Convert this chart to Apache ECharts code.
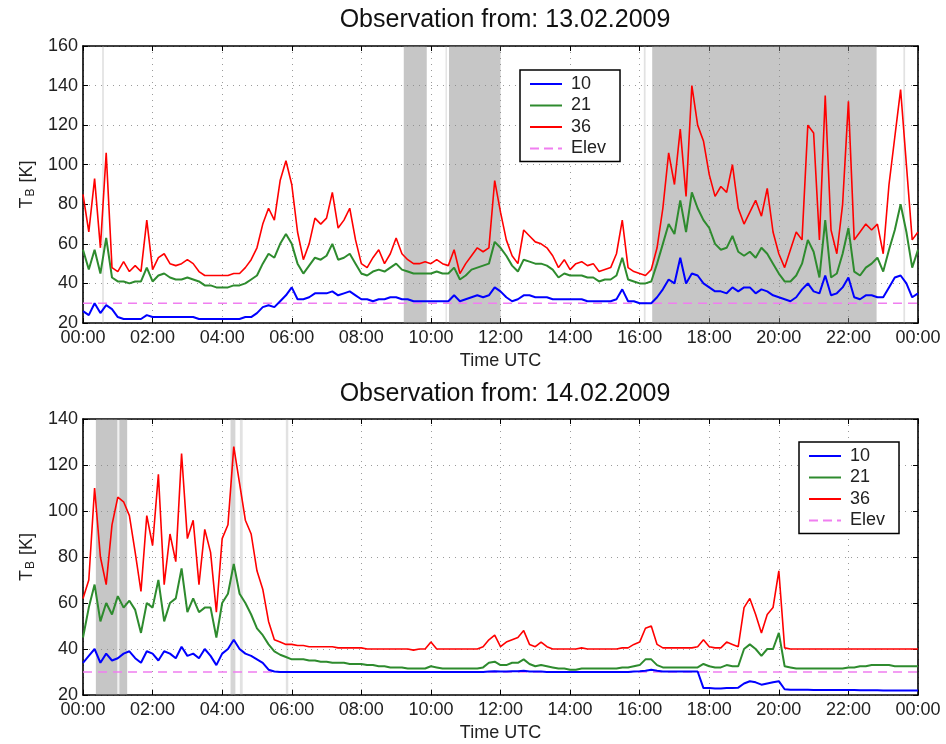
<!DOCTYPE html>
<html><head><meta charset="utf-8">
<script src="https://cdn.jsdelivr.net/npm/echarts@6/dist/echarts.min.js"></script>
<style>html,body{margin:0;padding:0;background:#fff}#c{width:946px;height:744px}</style>
</head><body><div id="c"></div>
<script>
// sampling: one value every 10 minutes, 00:00 .. 24:00 (145 samples)
const STEP_H = 10 / 60;
const titles = ['Observation from: 13.02.2009', 'Observation from: 14.02.2009'];
const seriesNames = ['10', '21', '36', 'Elev'];
const xTicks = ['00:00','02:00','04:00','06:00','08:00','10:00','12:00','14:00','16:00','18:00','20:00','22:00','00:00'];

// ---- 13.02.2009 ----
const t36_13 = [
  85,66,93,58,106,48, 46,51,46,49,46,72,
  47,53,55,50,49,50, 52,50,46,44,44,44,
  44,44,45,45,48,52, 58,70,78,72,92,102,
  90,66,52,60,73,70, 73,86,68,72,78,62,
  50,48,53,57,50,55, 63,55,52,50,50,51,
  50,52,50,49,57,45, 50,54,58,56,58,92,
  76,62,54,50,67,64, 61,60,58,54,48,52,
  47,50,51,49,50,46, 47,48,55,72,48,46,
  45,44,47,58,78,106, 90,118,84,140,120,112,
  95,84,89,86,100,78, 70,76,82,74,88,66,
  55,48,57,66,62,120, 116,62,135,67,55,80,
  132,62,66,70,67,70, 55,90,114,138,100,62,
  66];
const t21_13 = [
  57,47,57,45,63,43, 41,41,40,41,41,48,
  41,44,45,43,42,42, 43,42,41,39,39,38,
  38,38,39,39,40,42, 44,50,55,53,60,65,
  60,50,45,49,53,52, 54,60,52,53,55,50,
  45,44,46,47,46,48, 50,47,46,45,45,45,
  45,46,45,45,48,42, 44,47,48,49,50,61,
  58,54,49,46,52,51, 50,50,49,47,43,45,
  44,44,44,43,43,41, 42,42,44,53,42,41,
  40,40,41,50,60,70, 65,82,66,86,78,72,
  68,60,57,58,64,56, 54,56,53,58,55,50,
  45,41,41,44,50,62, 56,43,72,43,45,55,
  68,46,44,48,50,53, 46,57,67,80,66,48,
  57];
const t10_13 = [
  26,24,30,25,29,27, 23,22,22,22,22,24,
  23,23,23,23,23,23, 23,23,22,22,22,22,
  22,22,22,22,23,23, 25,28,29,28,31,34,
  38,32,32,33,35,35, 35,36,34,35,36,34,
  32,32,31,32,32,33, 33,32,32,31,31,31,
  31,31,31,31,34,31, 32,33,34,33,34,38,
  36,33,31,32,34,34, 33,33,33,32,32,32,
  32,32,32,31,31,31, 31,31,32,37,31,31,
  30,30,30,33,37,42, 40,53,40,45,44,40,
  38,36,36,35,38,36, 38,38,35,37,36,34,
  33,32,31,33,37,40, 36,35,44,34,35,38,
  43,33,32,34,34,33, 33,38,43,44,40,33,
  35];
const elev_13 = [30, 30];
const elevTimes = [0, 24];
// shaded intervals (hours): [start, end, strength]
const rain_13 = [[0.55,0.60,0],[9.22,9.88,1],[10.42,10.46,0],[10.52,12.0,1],[16.12,16.17,0],[16.36,22.81,1],[23.58,23.63,0]];

// ---- 14.02.2009 ----
const t36_14 = [
  62,70,110,80,68,94, 106,104,98,82,65,98,
  85,116,68,90,78,125, 88,96,68,92,82,56,
  88,94,128,112,96,90, 74,66,52,44,43,42,
  42,41.5,41.5,41,41,41, 41,41,40.5,40.5,40.5,40.5,
  40.5,40,40,40,40,40, 40,40,40,39.5,40,40,
  43,40,40,40,40,40, 40,40,40,41,44,46,
  41,43,44,45,48,42, 41,43,41,40,40,40,
  40,40,40.5,40,40,40, 40,40,40,40.5,40.5,42,
  43,49,50,42,40.5,40.5, 40.5,40.5,40.5,40.5,41,44,
  41,40.5,40.5,43,42,41, 58,62,55,47,55,58,
  74,40.5,40,40,40,40, 40,40,40,40,40,40,
  40,40,40,40,40,40, 40,40,40,40,40,40,
  40];
const t21_14 = [
  45,58,68,52,60,55, 63,58,61,57,47,60,
  58,70,52,60,62,75, 56,62,56,58,58,45,
  60,64,77,64,60,55, 49,46,42,39,37.5,36.5,
  35.5,35.5,35.5,35,35,34.5, 34.5,34,34,34,33.5,33.5,
  33.5,33,33,32.5,32.5,32, 32,32,31.5,31.5,31.5,31.5,
  32.5,32,31.5,31.5,31.5,31.5, 31.5,31.5,31.5,32,34,34.5,
  33,33,34,34,35.5,33.5, 32.5,33,32.5,32,31.5,31.5,
  31,31,31.5,31.5,31.5,31.5, 31.5,31.5,31.5,32,32,32.5,
  33,35.5,35.5,33,32,32, 32,32,32,32,32,33.5,
  32.5,32,32,33,32.5,32.5, 40,42,40,37,40,40,
  47,32.5,32,31.5,31.5,31.5, 31.5,31.5,31.5,31.5,31.5,31.5,
  32,32,32.5,32.5,33,33, 33,33,32.5,32.5,32.5,32.5,
  32.5];
const t10_14 = [
  34,37,40,34,38,35, 36,38,39,36,34,39,
  38,35,39,38,36,41, 37,38,36,40,37,33,
  38,40,44,40,38,37, 35.5,34,31,30.2,30,30,
  30,30,30,30,30,30, 30,30,30,30,30,30,
  30,30,30,30,30,30, 30,30,30,30,30,30,
  30,30,30,30,30,30, 30,30,30,30,30.2,30.3,
  30.2,30.2,30.3,30.3,30.5,30.2, 30.2,30.2,30,30,30,30,
  30,30,30,30,30,30, 30,30,30,30,30,30.2,
  30.3,30.5,31,30.5,30.2,30.2, 30.2,30.2,30.2,30.2,30.2,23,
  23,22.8,22.8,23,23,23.2, 25,26,25.5,24.5,25,25.5,
  26,22.5,22.3,22.3,22.3,22.3, 22.2,22.2,22.2,22.2,22.2,22.2,
  22.2,22.2,22.1,22.1,22.1,22.1, 22,22,22,22,22,22,
  22];
const elev_14 = [30, 30];
const rain_14 = [[0.37,0.99,1],[1.02,1.05,0],[1.05,1.27,1],[4.24,4.38,0.6],[4.51,4.59,0],[5.83,5.90,0]];

const colors = {'10':'#0000ff','21':'#2e8b2e','36':'#ff0000','Elev':'#f07ef0'};
const widths = {'10':2,'21':2,'36':1.6};
const FONT = 'Liberation Sans, Arial, Helvetica, sans-serif';
const ICON_SOLID = 'path://M0,0h32v2h-32z';
const ICON_DASH = 'path://M0,0h9v2h-9zM14,0h9v2h-9zM28,0h4v2h-4z';

function pairs(vals){ return vals.map((v,i)=>[i*STEP_H, v]); }
function pairsT(ts, vals){ return vals.map((v,i)=>[ts[i], v]); }

const chart = echarts.init(document.getElementById('c'), null, {renderer:'canvas'});

const grids = [
  {left:83, right:28, top:46, height:277},
  {left:83, right:28, top:419, height:276}
];
const yRanges = [[20,160],[20,140]];

function xLabel(v){ const idx = Math.round(v/2); return xTicks[idx] || ''; }

const xAxes = [], yAxes = [], series = [];
[0,1].forEach(g=>{
  xAxes.push({
    type:'value', gridIndex:g, min:0, max:24, interval:2, position:'bottom',
    name:'Time UTC', nameLocation:'middle', nameGap:29,
    nameTextStyle:{fontSize:18, color:'#222', fontFamily:FONT},
    axisLine:{show:true, onZero:false, lineStyle:{color:'#000', width:1.6}},
    axisTick:{show:true, inside:true, length:5, lineStyle:{color:'#000'}},
    axisLabel:{formatter:xLabel, fontSize:18, color:'#222', margin:6, fontFamily:FONT},
    splitLine:{show:true, lineStyle:{color:'#9a9a9a', type:[1,5], width:1}}
  });
  xAxes.push({
    type:'value', gridIndex:g, min:0, max:24, interval:2, position:'top',
    axisLine:{show:true, onZero:false, lineStyle:{color:'#000', width:1.6}},
    axisTick:{show:true, inside:true, length:5, lineStyle:{color:'#000'}},
    axisLabel:{show:false}, splitLine:{show:false}
  });
  yAxes.push({
    type:'value', gridIndex:g, min:yRanges[g][0], max:yRanges[g][1], interval:20, position:'left',
    name:'T{sub|B} [K]', nameLocation:'middle', nameGap:45,
    nameTextStyle:{fontSize:18, color:'#222', fontFamily:FONT,
      rich:{sub:{fontSize:12, color:'#222', fontFamily:FONT, padding:[9,1,0,1]}}},
    axisLine:{show:true, onZero:false, lineStyle:{color:'#000', width:1.6}},
    axisTick:{show:true, inside:true, length:5, lineStyle:{color:'#000'}},
    axisLabel:{fontSize:18, color:'#222', margin:5, fontFamily:FONT},
    splitLine:{show:true, lineStyle:{color:'#9a9a9a', type:[1,5], width:1}}
  });
  yAxes.push({
    type:'value', gridIndex:g, min:yRanges[g][0], max:yRanges[g][1], interval:20, position:'right',
    axisLine:{show:true, onZero:false, lineStyle:{color:'#000', width:1.6}},
    axisTick:{show:true, inside:true, length:5, lineStyle:{color:'#000'}},
    axisLabel:{show:false}, splitLine:{show:false}
  });
});

const panels = [
  {rain:rain_13, d:{'10':t10_13,'21':t21_13,'36':t36_13}, elev:elev_13},
  {rain:rain_14, d:{'10':t10_14,'21':t21_14,'36':t36_14}, elev:elev_14}
];
panels.forEach((p,g)=>{
  const xi = g*2, yi = g*2;
  series.push({
    type:'line', name:'rain'+g, xAxisIndex:xi, yAxisIndex:yi, data:[], silent:true, z:1,
    markArea:{silent:true, data:p.rain.map(r=>[
      {xAxis:r[0], itemStyle:{color: r[2]===1 ? 'rgba(135,135,135,0.48)' : (r[2]>0 ? 'rgba(150,150,150,0.4)' : 'rgba(160,160,160,0.3)')}},
      {xAxis:r[1]}])}
  });
  ['10','21','36'].forEach(n=>{
    series.push({
      type:'line', name:n, xAxisIndex:xi, yAxisIndex:yi, data:pairs(p.d[n]),
      showSymbol:false, symbol:'none', z:3, color:colors[n],
      lineStyle:{width:widths[n], color:colors[n]}
    });
  });
  series.push({
    type:'line', name:'Elev', xAxisIndex:xi, yAxisIndex:yi, data:pairsT(elevTimes, p.elev),
    showSymbol:false, symbol:'none', z:2, color:colors['Elev'],
    lineStyle:{width:1.6, color:colors['Elev'], type:[9,6]}
  });
});

const legendData = seriesNames.map(n=>({
  name:n, icon: n==='Elev' ? ICON_DASH : ICON_SOLID,
  itemStyle:{color:colors[n], borderWidth:0}
}));
const legendBase = {
  orient:'vertical', data:legendData, itemWidth:32, itemHeight:2, itemGap:1.5,
  padding:[4,14,3,10], borderColor:'#000', borderWidth:1.5, backgroundColor:'#fff',
  textStyle:{fontSize:18, color:'#222', fontFamily:FONT, padding:[0,0,0,4], lineHeight:20}, selectedMode:false
};

chart.setOption({
  animation:false,
  backgroundColor:'#fff',
  title:[
    {text:titles[0], left:500, top:3, textAlign:'center', textStyle:{fontSize:25, fontWeight:'normal', color:'#111', fontFamily:FONT}},
    {text:titles[1], left:500, top:377, textAlign:'center', textStyle:{fontSize:25, fontWeight:'normal', color:'#111', fontFamily:FONT}}
  ],
  legend:[
    Object.assign({}, legendBase, {left:520, top:70}),
    Object.assign({}, legendBase, {left:799, top:442})
  ],
  grid:grids, xAxis:xAxes, yAxis:yAxes, series:series
});
</script></body></html>
